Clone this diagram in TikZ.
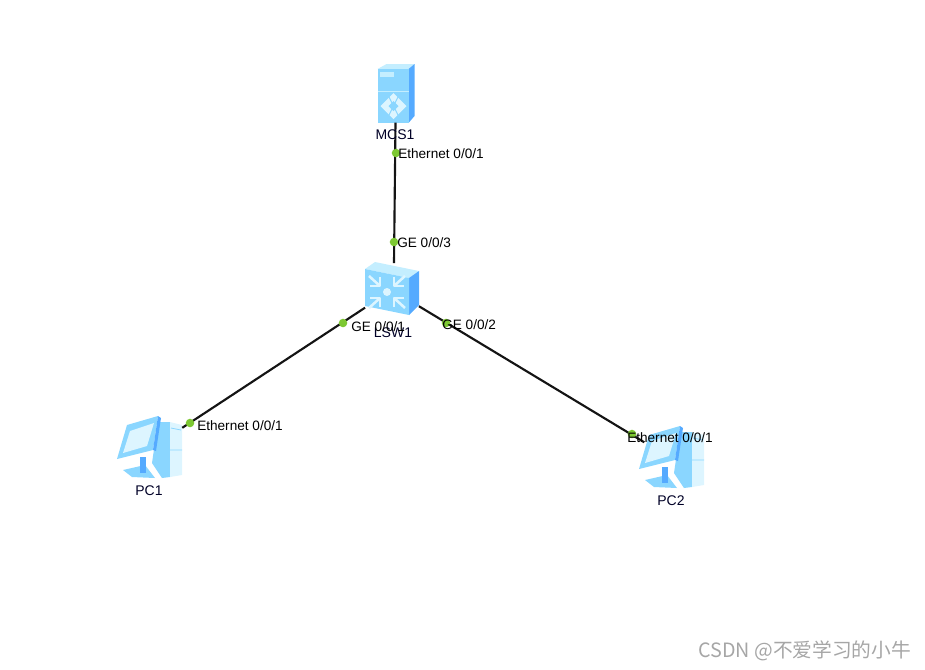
\documentclass[tikz,border=0pt]{standalone}
\usepackage{fontspec}
\setmainfont{Liberation Sans}
\newfontfamily\cjkfont{Noto Sans CJK SC}
\usetikzlibrary{calc}
\definecolor{iconmid}{HTML}{8AD6FF}
\definecolor{iconlight}{HTML}{C4EEFF}
\definecolor{iconpale}{HTML}{DDF5FF}
\definecolor{icondark}{HTML}{55AAFF}
\definecolor{icongreen}{HTML}{7DC832}
\definecolor{marktext}{HTML}{A6A6A6}
\tikzset{
  device/.style={draw=none, inner sep=0pt, minimum width=#1},
  linkline/.style={line width=1.6pt, draw=black!92},
  portdot/.style={circle, fill=icongreen, inner sep=0pt, minimum size=6.4pt},
  portlab/.style={anchor=west, inner sep=0pt, font=\fontsize{10.2}{12}\selectfont},
  devlab/.style={inner sep=0pt, text=black!85!blue, font=\fontsize{10.5}{12}\selectfont},
  glyph/.style={iconpale, line width=1.9pt, line join=round},
  pics/mcsicon/.style={code={
    \fill[iconlight] (-18,-24) -- (-9,-29) -- (19,-29) -- (13,-24) -- cycle;
    \fill[icondark] (13,-24) -- (19,-29) -- (19,23) -- (13,30) -- cycle;
    \fill[iconmid] (-18,-24) rectangle (13,30);
    \fill[iconlight] (-16,-21) rectangle (-2,-16);
    \draw[iconlight, line width=0.6pt] (-18,-2) -- (13,-2);
    \fill[iconpale] (-2,0) -- (11,13) -- (-2,26) -- (-15,13) -- cycle;
    \fill[iconmid] (-2,8) -- (3,13) -- (-2,18) -- (-7,13) -- cycle;
    \draw[iconmid, line width=0.8pt] (-7,3) -- (3,23) (3,3) -- (-7,23);
  }},
  pics/lswicon/.style={code={
    \fill[iconlight] (-27,-21) -- (-17,-28) -- (27,-19) -- (17,-12) -- cycle;
    \fill[icondark] (17,-12) -- (27,-19) -- (27,15) -- (17,25) -- cycle;
    \fill[iconmid] (-27,-21) -- (17,-12) -- (17,25) -- (-27,16) -- cycle;
    \fill[iconpale] (-5,2) circle (4);
    \foreach \sx/\sy in {-1/-1, 1/-1, -1/1, 1/1} {
      \draw[glyph] ({-5+\sx*18},{2+\sy*16}) -- ({-5+\sx*7},{2+\sy*6});
      \draw[glyph] ({-5+\sx*7},{2+\sy*15}) -- ({-5+\sx*7},{2+\sy*6}) -- ({-5+\sx*17},{2+\sy*6});
    }
  }},
  pics/pcicon/.style={code={
    \fill[iconmid] (8,-27) -- (20,-27) -- (20,28) -- (12,29) -- (2,14) -- cycle;
    \fill[iconpale] (20,-27) -- (32,-24) -- (32,26) -- (20,28) -- cycle;
    \draw[iconmid, line width=0.6pt] (20,1) -- (32,1) (21,-21) -- (31,-19);
    \fill[iconmid] (-27,21) -- (-5,16) -- (5,29) -- (-18,28) -- cycle;
    \fill[icondark] (-10,8) -- (-4,8) -- (-4,24) -- (-10,24) -- cycle;
    \fill[iconmid] (-23,-24) -- (8,-33) -- (3,1) -- (-33,10) -- cycle;
    \fill[icondark] (8,-33) -- (11,-31) -- (6,2) -- (3,1) -- cycle;
    \fill[iconpale] (-20,-18) -- (4,-26) -- (-3,-3) -- (-27,4) -- cycle;
  }},
}
\begin{document}
\begin{tikzpicture}[x=0.75pt, y=-0.75pt]
  \useasboundingbox (0,0) rectangle (925,669);
  \node[device=28pt, minimum height=44pt] (mcs) at (395.5,93) {};
  \node[device=40pt, minimum height=40pt] (lsw) at (392,290) {};
  \node[device=48pt, minimum height=46pt] (pc1) at (150,449) {};
  \node[device=48pt, minimum height=46pt] (pc2) at (672,459) {};
  \pic at (mcs) {mcsicon};
  \pic at (lsw) {lswicon};
  \pic at (pc1) {pcicon};
  \pic at (pc2) {pcicon};
  \draw[linkline] (mcs.south) -- ([xshift=1.5pt]lsw.north);
  \draw[linkline] (lsw) -- (pc1);
  \draw[linkline, shorten >=-4pt] (lsw) -- (pc2);
  \node[devlab] (mcslab) at (395,135) {MCS1};
  \node[devlab] (lswlab) at (393,333) {LSW1};
  \node[devlab] (pc1lab) at (149,491) {PC1};
  \node[devlab] (pc2lab) at (671,501) {PC2};
  \node[portdot] (d1) at (396,153) {};
  \node[portdot] (d2) at (394,242) {};
  \node[portdot] (d3) at (343,323) {};
  \node[portdot] (d4) at (446,323) {};
  \node[portdot] (d5) at (190,423) {};
  \node[portdot] (d6) at (632,434) {};
  \node[portlab] at (398,154) {Ethernet 0/0/1};
  \node[portlab] at (397,243) {GE 0/0/3};
  \node[portlab] at (351,327) {GE 0/0/1};
  \node[portlab] at (442,325) {GE 0/0/2};
  \node[portlab] at (197,426) {Ethernet 0/0/1};
  \node[portlab] at (627,438) {Ethernet 0/0/1};
  \node[anchor=west, inner sep=0pt, text=marktext, font=\cjkfont\fontsize{14.8}{16}\selectfont] (mark) at (698,651) {CSDN @不爱学习的小牛};
\end{tikzpicture}
\end{document}
